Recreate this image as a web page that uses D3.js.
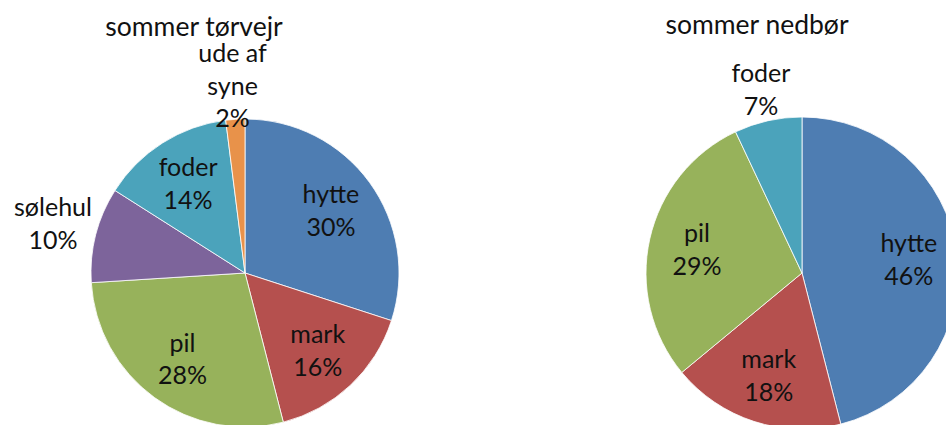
<!DOCTYPE html>
<html lang="da">
  <head>
    <meta charset="utf-8">
    <title>sommer</title>
    <script src="https://d3js.org/d3.v7.min.js"></script>
    <style>
      body { margin: 0; background: #fff; }
      text { font-family: Lato, "Open Sans", sans-serif; fill: #111; }
    </style>
  </head>

  <body>

    <script>

// data

  var torCategories = ["hytte", "mark", "pil", "sølehul", "foder", "ude af syne"];
  var torValues = [30, 16, 28, 10, 14, 2];

  var nedCategories = ["hytte", "mark", "pil", "foder"];
  var nedValues = [46, 18, 29, 7];

  var colours = {
    "hytte": "#4e7db2",
    "mark": "#b5504e",
    "pil": "#97b25b",
    "sølehul": "#7d649b",
    "foder": "#4ba3bb",
    "ude af syne": "#e8924a"
  };

  var svg = d3.select("body")
    .append("svg")
      .attr("width", 946)
      .attr("height", 425);

  function splitName(name) {
    var w = name.split(" ");
    if (w.length < 3) return [name];
    return [w.slice(0, w.length - 1).join(" "), w[w.length - 1]];
  };

  function drawPie(cats, vals, title, cx, cy, r, tx, ty) {

    var data = cats.map((c, i) => ({name: c, value: vals[i]}));
    var total = d3.sum(vals);

    var pie = d3.pie()
        .sort(null)
        .value(d => d.value);

    var arc = d3.arc().innerRadius(0).outerRadius(r);
    var inner = d3.arc().innerRadius(r * 0.69).outerRadius(r * 0.69);

    var g = svg.append("g")
        .attr("transform", "translate(" + cx + "," + cy + ")");

    var arcs = pie(data);

    g.selectAll("path")
        .data(arcs)
      .enter().append("path")
        .attr("d", arc)
        .attr("fill", d => colours[d.data.name])
        .attr("stroke", "#fff")
        .attr("stroke-width", 0.8);

    var lh = 32.5;

    g.selectAll("text.lab")
        .data(arcs)
      .enter().append("text")
        .attr("class", "lab")
        .attr("text-anchor", "middle")
        .style("font-size", "25px")
        .each(function (d) {
          var pct = Math.round(d.data.value / total * 100);
          var lines = splitName(d.data.name);
          lines.push(pct + "%");
          var t = d3.select(this);
          var spans = lines.map((s, i) => t.append("tspan").text(s));
          var w = d3.max(spans, s => s.node().getComputedTextLength());
          var h = (lines.length - 1) * lh + 20;
          var p;
          if (pct < 12) {
            // outside: push the label box just clear of the rim
            var a = (d.startAngle + d.endAngle) / 2;
            var sx = Math.sin(a), sy = -Math.cos(a);
            var dist = r + w / 2 * Math.abs(sx) + h / 2 * Math.abs(sy);
            p = [sx * dist, sy * dist];
          } else {
            p = inner.centroid(d);
          }
          var y0 = p[1] - (lines.length - 1) * lh / 2 + 9;
          // keep clear of the title
          y0 = Math.max(y0, ty + 26 - cy);
          spans.forEach((s, i) => s.attr("x", p[0]).attr("y", y0 + i * lh));
        });

    svg.append("text")
        .attr("x", tx)
        .attr("y", ty)
        .attr("text-anchor", "middle")
        .style("font-size", "26.5px")
        .text(title);

  };

  drawPie(torCategories, torValues, "sommer tørvejr", 245, 273, 154, 194, 36);
  drawPie(nedCategories, nedValues, "sommer nedbør", 802, 273, 156, 757, 34);

    </script>

  </body>

</html>
